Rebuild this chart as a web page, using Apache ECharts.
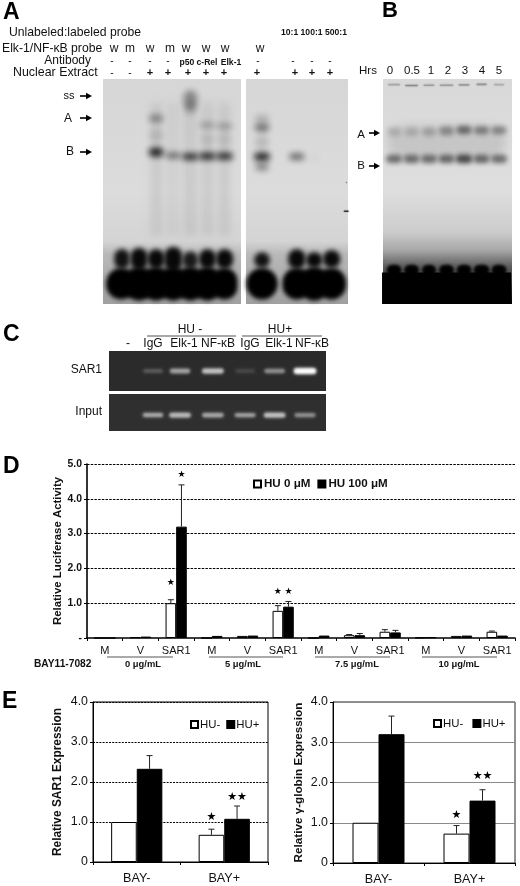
<!DOCTYPE html>
<html><head><meta charset="utf-8">
<style>html,body{margin:0;padding:0;background:#fff}#c{width:520px;height:886px}</style>
<script src="https://cdn.jsdelivr.net/npm/echarts@6/dist/echarts.min.js"></script>
</head><body><div id="c"></div>
<script>
// ---------- Panel D ----------
const dCats = ['M','V','SAR1','M','V','SAR1','M','V','SAR1','M','V','SAR1'];
const dHu0   = [0,0.02,1.0, 0,0.06,0.78, 0,0.08,0.18, 0.01,0.06,0.18];
const dHu100 = [0,0.04,3.2, 0.06,0.07,0.9, 0.07,0.08,0.16, 0.02,0.07,0.07];
const dHu0Top   = [null,null,1.1, null,null,0.93, null,0.1,0.24, null,null,0.2];
const dHu100Top = [null,null,4.4, null,null,1.05, null,0.13,0.22, null,null,null];
const dStars = [[2,-1,1.58,'★'],[2,1,4.68,'★'],[5,-1,1.32,'★'],[5,1,1.32,'★']];
// ---------- Panel E ----------
const eCats = ['BAY-','BAY+'];
const e1Minus = [1.0,0.68], e1Plus = [2.33,1.08];
const e1MinusTop = [null,0.82], e1PlusTop = [2.66,1.4];
const e1Stars = [[1,-1,1.13,'★'],[1,1,1.63,'★★']];
const e2Minus = [1.0,0.73], e2Plus = [3.2,1.55];
const e2MinusTop = [null,0.93], e2PlusTop = [3.65,1.82];
const e2Stars = [[1,-1,1.2,'★'],[1,1,2.17,'★★']];
// ---------- Gels: [lane, migration %, intensity, lane widths, migration extent] ----------
const gelALeftBands = [
 [2,17.5,.42,.8,3.5],[2,25,.12,.8,6],[2,32.5,.95,.85,4],[3,34,.62,.85,2.5],[4,9,.42,.8,8],[4,13,.25,.7,5],[4,34.5,.88,.95,3],
 [5,20.5,.34,.85,2.4],[5,27,.1,.8,6],[5,34.3,.9,.95,3.2],[6,21,.34,.85,2.4],[6,27,.1,.8,6],[6,34.3,.88,.95,3.2]];
const gelARightBands = [[0,17.5,.22,.8,3],[0,21.5,.5,.85,4],[0,28,.18,.8,5],[0,34.5,.92,.9,3.6],[0,39,.42,.75,3.5],[2,34.5,.58,.85,3],[3,35,.06,.6,2]];
const gelALeftFront  = [[0,80,.95,.9,9],[1,80,1,1,10],[2,80,1,1,9],[3,80,1,1.05,11],[4,80.5,.9,.9,8],[5,80,1,1,9],[6,80,1,1,9]];
const gelARightFront = [[0,80.5,.95,.9,7],[2,80,1,1,9],[3,80.5,1,.95,7],[4,80,1,1,8]];
const gelALeftBlob  = [[-.05,91,1,1.75,14],[1,91,1,1.75,15],[2,91,1,1.65,15],[3,91,1,1.65,15],[4,91,1,1.65,15],[5,91,1,1.65,15],[6,91,1,1.5,14]];
const gelARightBlob = [[0,91,1,1.8,14],[2,91,1,1.65,14],[3,91,1,1.65,15],[4,91,1,1.65,14]];
const gelABands = [[2,40,.07,.7,60],[3,40,.05,.7,60],[4,40,.08,.7,60],[5,40,.07,.7,60],[6,40,.07,.7,60]];
const gelAStains = [[4.84,58.8,.9,.3,.7],[4.85,46,.5,.08,.7]];
const gelBLaneA = [[0,23.4,.2,.8,4],[1,23.4,.2,.8,4],[2,23.4,.26,.8,4],[3,23,.42,.85,4],[4,22.6,.62,.85,3.6],[5,22.8,.5,.85,3.6],[6,22.8,.47,.85,3.6]];
const gelBLaneB = [[0,35.5,.62,.9,3.6],[1,35.5,.62,.9,3.6],[2,35.5,.62,.9,3.6],[3,35.5,.65,.9,3.6],[4,35.5,.82,.95,3.8],[5,35.5,.65,.9,3.6],[6,35.5,.62,.9,3.6]];
const gelBWells = [[0,2.5,.4,.7,.7],[1,2.9,.65,.75,.7],[2,2.8,.5,.65,.7],[3,2.8,.5,.8,.7],[4,2.6,.5,.65,.7],[5,2.4,.55,.6,.7],[6,2.5,.35,.6,.7]];
const gelBFront = [[0,85,1,.85,5],[1,85,1,.85,5],[2,85,1,.8,5],[3,85,1,.85,5],[4,85,1,.85,5],[5,85,1,.9,5],[6,85,1,.85,5]];
const gelBHaze = [[3,28,.13,6.8,15]];
const gelBFloor = [[3,93,1,7.37,14]];
const gelCLanes = [1,1.89,2.97,4.03,5,6];
const gelC1Bands = [[gelCLanes[0],50,.24,.65,10],[gelCLanes[1],50,.58,.68,12],[gelCLanes[2],50,.72,.72,14],[gelCLanes[3],50,.14,.65,10],[gelCLanes[4],50,.5,.68,11],[gelCLanes[5],50,1,.75,16]];
const gelC2Bands = [[gelCLanes[0],57,.62,.68,12],[gelCLanes[1],57,.68,.72,14],[gelCLanes[2],57,.6,.72,13],[gelCLanes[3],57,.58,.7,11],[gelCLanes[4],57,.72,.72,14],[gelCLanes[5],57,.5,.7,11]];

const FONT = '"Liberation Sans",Arial,sans-serif';
const chart = echarts.init(document.getElementById('c'), null, {renderer:'canvas'});

function grid(l,t,r,b,extra){return Object.assign({left:l,top:t,width:r-l,height:b-t,containLabel:false},extra||{});}

function gelSeries(g, data, blur, rgb){
  return {type:'custom',xAxisIndex:g,yAxisIndex:g,silent:true,clip:false,encode:{x:0,y:1},data,
    renderItem(p,api){
      const c=api.coord([api.value(0),api.value(1)]);
      const s=api.size([api.value(3),api.value(4)]);
      const col='rgba('+rgb+','+api.value(2)+')';
      const rect={x:c[0]-s[0]/2,y:c[1]-s[1]/2,width:s[0],height:s[1],r:blur?Math.min(s[0],s[1])/2:0};
      if(!blur) return {type:'rect',shape:rect,style:{fill:col}};
      rect.x-=3000;
      return {type:'rect',shape:rect,style:{fill:'#000',shadowColor:col,shadowBlur:blur,shadowOffsetX:3000}};
    }};
}
function gelBase(g, fill){
  return {type:'custom',xAxisIndex:g,yAxisIndex:g,silent:true,encode:{x:0,y:1},data:[[0,0]],
    renderItem(p,api){const cs=p.coordSys;return {type:'rect',shape:{x:cs.x,y:cs.y,width:cs.width,height:cs.height},style:{fill}};}};
}
const vGrad=(stops)=>new echarts.graphic.LinearGradient(0,0,0,1,stops.map(s=>({offset:s[0],color:s[1]})));

function bars(g,name,vals,white,width){
  return {type:'bar',name,xAxisIndex:g,yAxisIndex:g,data:vals,barWidth:width,barGap:0,
    itemStyle:{color:white?'#fff':'#000',borderColor:'#000',borderWidth:1},emphasis:{disabled:true},silent:true};
}
function errs(g,vals,tops,side,width,cap){
  const data=tops.map((t,i)=>t==null?null:[i,vals[i],t]).filter(Boolean);
  return {type:'custom',xAxisIndex:g,yAxisIndex:g,silent:true,encode:{x:0,y:2},data,z:3,
    renderItem(p,api){
      const a=api.coord([api.value(0),api.value(1)]),b=api.coord([api.value(0),api.value(2)]);
      const x=a[0]+side*width/2;
      return {type:'group',children:[
        {type:'line',shape:{x1:x,y1:a[1],x2:x,y2:b[1]},style:{stroke:'#222',lineWidth:1}},
        {type:'line',shape:{x1:x-cap,y1:b[1],x2:x+cap,y2:b[1]},style:{stroke:'#222',lineWidth:1}}]};
    }};
}
function stars(g,list,width,size){
  return {type:'custom',xAxisIndex:g,yAxisIndex:g,silent:true,encode:{x:0,y:2},data:list,z:4,
    renderItem(p,api){
      const c=api.coord([api.value(0),api.value(2)]);
      return {type:'text',x:c[0]+api.value(1)*width/2,y:c[1],style:{text:list[p.dataIndex][3],fontSize:size,fontFamily:'"DejaVu Sans"',fill:'#000',align:'center',verticalAlign:'middle'}};
    }};
}
function hiddenAxes(xmin,xmax,ymin,ymax,i){
  return [{type:'value',gridIndex:i,min:xmin,max:xmax,show:false},
          {type:'value',gridIndex:i,min:ymin,max:ymax,inverse:true,show:false}];
}
const gelAxes=[hiddenAxes(-1.11,6.96,0,100,0),hiddenAxes(-.92,4.94,0,100,1),hiddenAxes(-.63,6.74,0,100,2),
  hiddenAxes(-.447,6.69,0,100,3),hiddenAxes(-.447,6.69,0,100,4)];

const valAxis=(i,max,name,gap,fs,zero,line,size,lineW)=>({type:'value',gridIndex:i,min:0,max,interval:1,
  name,nameLocation:'middle',nameGap:gap,nameMoveOverlap:false,nameTextStyle:{fontFamily:FONT,fontSize:size,fontWeight:'bold',color:'#111'},
  axisLine:{show:true,lineStyle:{color:'#000',width:lineW}},axisTick:{show:true,length:3,lineStyle:{color:'#000'}},
  axisLabel:{fontFamily:FONT,fontSize:fs,color:'#111',margin:5,fontWeight:fs>11?'normal':'bold',formatter:v=>v===0?zero:v.toFixed(1)},
  splitLine:{show:true,showMinLine:false,lineStyle:line}});
const catAxis=(i,data,fs,margin,lineW)=>({type:'category',gridIndex:i,data,
  axisLine:{show:true,lineStyle:{color:'#000',width:lineW}},
  axisTick:{show:true,length:3,alignWithLabel:false,lineStyle:{color:'#000'}},
  axisLabel:{interval:0,fontFamily:FONT,fontSize:fs,color:'#111',margin}});

// ---------- text & annotation helpers ----------
const els=[];
function T(text,x,y,size,opt){opt=opt||{};
  els.push({type:'text',x,y,silent:true,style:{text,fontSize:size,fontFamily:FONT,fontWeight:opt.b?'bold':'normal',fill:opt.c||'#111',
    align:opt.a||'center',verticalAlign:'middle'}});}
function Arrow(x1,x2,y){
  els.push({type:'line',silent:true,shape:{x1,y1:y,x2:x2-3,y2:y},style:{stroke:'#000',lineWidth:1.6}});
  els.push({type:'polygon',silent:true,shape:{points:[[x2,y],[x2-6,y-3.2],[x2-6,y+3.2]]},style:{fill:'#000'}});
}
function Rule(x1,x2,y,c){els.push({type:'line',silent:true,shape:{x1,y1:y,x2,y2:y},style:{stroke:c||'#555',lineWidth:1}});}
// Panel letters
T('A',3,13,23,{b:1,a:'left',c:'#000'});T('B',382,11,22,{b:1,a:'left',c:'#000'});
T('C',3,335,23,{b:1,a:'left',c:'#000'});T('D',3,467,23,{b:1,a:'left',c:'#000'});T('E',2,702,23,{b:1,a:'left',c:'#000'});
// Panel A headers
T('Unlabeled:labeled probe',9,33,12.2,{a:'left'});
T('10:1 100:1 500:1',281,33,8.6,{a:'left',b:1});
T('Elk-1/NF-κB probe',2,49,12.2,{a:'left'});
['w','m','w','m','w','w','w','w'].forEach((s,i)=>T(s,[114,130,150,170,186,206,225,260][i],49,12));
T('Antibody',91,61,12,{a:'right'});
[112,130,150,168,258,293,312,330].forEach(x=>T('-',x,61,10));
T('p50',187,63,8.6,{b:1});T('c-Rel',207,63,8.6,{b:1});T('Elk-1',231,63,8.6,{b:1});
T('Nuclear Extract',13,73,12.4,{a:'left'});
[112,130].forEach(x=>T('-',x,73,10));
[150,168,188,206,224,257,295,312,330].forEach(x=>T('+',x,73,11,{b:1}));
T('ss',69,96,11);T('A',68,119,12);T('B',70,152,12);
Arrow(80,92,96);Arrow(80,92,118);Arrow(80,92,152);
// Panel B headers
T('Hrs',368,71,11.5);
['0','0.5','1','2','3','4','5'].forEach((s,i)=>T(s,[390,412,431,448,465,482,499][i],71,11.5));
T('A',361,135,11.5);T('B',361,166,11.5);Arrow(369,380,133);Arrow(369,380,166);
// Panel C headers
T('HU -',190,330,12);T('HU+',280,330,12);Rule(147,236,336);Rule(242,322,336);
['-','IgG','Elk-1','NF-κB','IgG','Elk-1','NF-κB'].forEach((s,i)=>T(s,[128,153,184,218,250,279,312][i],344,12));
T('SAR1',102,370,12,{a:'right'});T('Input',102,412,12,{a:'right'});
// Panel D dose groups
T('BAY11-7082',34,664,10.2,{a:'left',b:1});
[[107,173,143,'0 μg/mL'],[209,283,243,'5 μg/mL'],[315,390,357,'7.5 μg/mL'],[422,497,459,'10 μg/mL']].forEach(r=>{Rule(r[0],r[1],657);T(r[3],r[2],664.5,9.4,{b:1});});

const gelAFill=()=>vGrad([[0,'#d6d6d6'],[.5,'#dcdcdc'],[.72,'#d4d4d4'],[.78,'#b8b8b8'],[1,'#a0a0a0']]);
const option={
  animation:false,backgroundColor:'#fff',
  grid:[grid(103,79,241,304),grid(246,79,348,304),grid(383,79,512,304),grid(109,351,326,391),grid(109,394,326,431),
        grid(87,464,515,638),grid(93,702,268,862,{show:true,borderColor:'#000',borderWidth:1}),grid(333,702,515,863,{show:true,borderColor:'#222',borderWidth:1})],
  xAxis:[...gelAxes.map(a=>a[0]),catAxis(5,dCats,11,7,1.6),catAxis(6,eCats,12.6,10,1),catAxis(7,eCats,12.6,10,1)],
  yAxis:[...gelAxes.map(a=>a[1]),
    valAxis(5,5,'Relative Luciferase Activity',24,10.4,'-',{color:'#000',type:[2.5,1.2],width:1},11.4,1.6),
    valAxis(6,4,'Relative SAR1 Expression',29,12.4,'0',{color:'#000',type:[2,1.2],width:1},11.9,1),
    valAxis(7,4,'Relative γ-globin Expression',28,12.4,'0',{color:'#8a8a8a',type:'solid',width:1},11.7,1)],
  legend:[
    {data:['HU 0 μM','HU 100 μM'],left:253,top:478,itemWidth:7,itemHeight:7,itemGap:7,selectedMode:false,icon:'rect',textStyle:{fontFamily:FONT,fontSize:11.6,fontWeight:'bold',color:'#111',padding:[0,0,0,-2]},padding:0},
    {data:['HU-','HU+'],left:190,top:719,itemWidth:7,itemHeight:7,itemGap:6,selectedMode:false,icon:'rect',textStyle:{fontFamily:FONT,fontSize:11.4,color:'#111',padding:[0,0,0,-3]},padding:0},
    {data:['HU- ','HU+ '],left:433,top:718,itemWidth:7,itemHeight:7,itemGap:6,selectedMode:false,icon:'rect',textStyle:{fontFamily:FONT,fontSize:11.4,color:'#111',padding:[0,0,0,-3]},padding:0}
  ],
  graphic:{elements:els},
  series:[
    gelBase(0,gelAFill()),
    gelSeries(0,gelABands,7,'0,0,0'),gelSeries(0,gelALeftBands,6,'20,20,20'),
    gelSeries(0,gelALeftFront,5,'8,8,8'),gelSeries(0,gelALeftBlob,4,'0,0,0'),
    gelBase(1,gelAFill()),
    gelSeries(1,gelARightBands,6,'20,20,20'),gelSeries(1,gelARightFront,5,'8,8,8'),gelSeries(1,gelARightBlob,4,'0,0,0'),
    gelSeries(1,gelAStains,1,'0,0,0'),
    gelBase(2,vGrad([[0,'#d9d9d9'],[.5,'#dedede'],[.68,'#cccccc'],[.76,'#a8a8a8'],[.83,'#606060'],[1,'#000']])),
    gelSeries(2,gelBHaze,10,'50,50,50'),gelSeries(2,gelBLaneA,5,'40,40,40'),gelSeries(2,gelBLaneB,5,'40,40,40'),
    gelSeries(2,gelBWells,1.5,'50,50,50'),gelSeries(2,gelBFront,3,'0,0,0'),gelSeries(2,gelBFloor,0,'0,0,0'),
    gelBase(3,'#2b2b2b'),gelSeries(3,gelC1Bands,3,'255,255,255'),
    gelBase(4,'#2f2f2f'),gelSeries(4,gelC2Bands,3,'255,255,255'),
    bars(5,'HU 0 μM',dHu0,true,10.6),bars(5,'HU 100 μM',dHu100,false,10.6),
    errs(5,dHu0,dHu0Top,-1,10.6,3),errs(5,dHu100,dHu100Top,1,10.6,3),stars(5,dStars,10.6,9),
    bars(6,'HU-',e1Minus,true,25.6),bars(6,'HU+',e1Plus,false,25.6),
    errs(6,e1Minus,e1MinusTop,-1,25.6,3),errs(6,e1Plus,e1PlusTop,1,25.6,3),stars(6,e1Stars,25.6,11),
    bars(7,'HU- ',e2Minus,true,26),bars(7,'HU+ ',e2Plus,false,26),
    errs(7,e2Minus,e2MinusTop,-1,26,3),errs(7,e2Plus,e2PlusTop,1,26,3),stars(7,e2Stars,26,11)
  ]
};
chart.setOption(option);
</script></body></html>
